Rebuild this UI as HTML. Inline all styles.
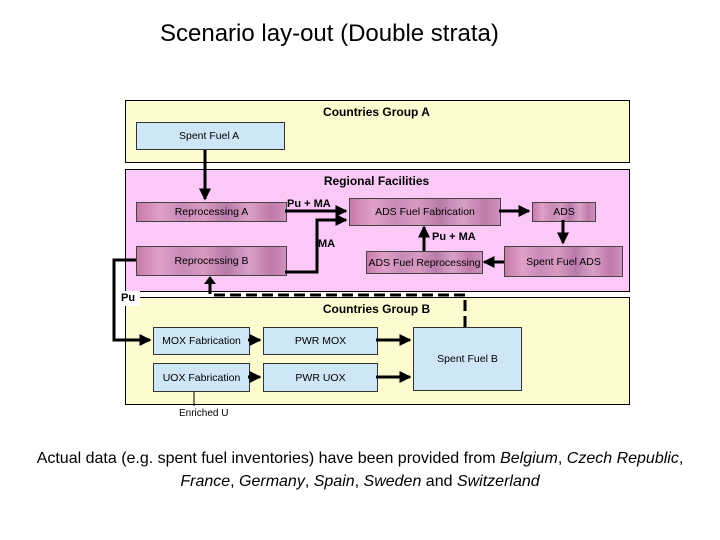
<!DOCTYPE html>
<html><head><style>
body{margin:0;width:720px;height:540px;background:#fff;position:relative;font-family:"Liberation Sans",sans-serif;overflow:hidden}
.a{position:absolute}
.g{position:absolute;border:1px solid #000}
.y{background:#fdfbd0}
.p{background:#fbc8f8}
.b{background:#cfe6f7;border:1px solid #333;font-size:10.5px;display:flex;align-items:center;justify-content:center}
.m{border:1px solid #444;font-size:10.5px;display:flex;align-items:center;justify-content:center;background:linear-gradient(90deg,#c77aa8 0%,#e0a0c8 15%,#c88ab8 30%,#d89ac0 45%,#b87aa8 60%,#d8a0c8 75%,#c07aa8 90%,#d090c0 100%)}
.t{font-weight:bold;font-size:12px;text-align:center}
</style></head><body>
<div class="a" style="left:160px;top:20px;font-size:24px;white-space:nowrap">Scenario lay-out (Double strata)</div>
<div class="g y" style="left:125px;top:100px;width:503px;height:61px"></div>
<div class="a t" style="left:125px;top:105px;width:503px">Countries Group A</div>
<div class="a b" style="left:136px;top:122px;width:149px;height:28px;justify-content:flex-start;padding-left:42px;box-sizing:border-box">Spent Fuel A</div>
<div class="g p" style="left:125px;top:169px;width:503px;height:121px"></div>
<div class="a t" style="left:125px;top:174px;width:503px">Regional Facilities</div>
<div class="a m" style="left:136px;top:202px;width:149px;height:18px">Reprocessing A</div>
<div class="a m" style="left:136px;top:246px;width:149px;height:28px">Reprocessing B</div>
<div class="a m" style="left:349px;top:198px;width:150px;height:26px">ADS Fuel Fabrication</div>
<div class="a m" style="left:532px;top:202px;width:62px;height:18px">ADS</div>
<div class="a m" style="left:504px;top:246px;width:117px;height:29px">Spent Fuel ADS</div>
<div class="a m" style="left:366px;top:251px;width:115px;height:21px;white-space:nowrap">ADS Fuel Reprocessing</div>
<div class="g y" style="left:125px;top:297px;width:503px;height:106px"></div>
<div class="a t" style="left:125px;top:302px;width:503px">Countries Group B</div>
<div class="a b" style="left:153px;top:327px;width:95px;height:26px">MOX Fabrication</div>
<div class="a b" style="left:263px;top:327px;width:113px;height:26px">PWR MOX</div>
<div class="a b" style="left:153px;top:363px;width:95px;height:27px">UOX Fabrication</div>
<div class="a b" style="left:263px;top:363px;width:113px;height:27px">PWR UOX</div>
<div class="a b" style="left:413px;top:327px;width:107px;height:62px">Spent Fuel B</div>
<div class="a" style="left:118px;top:291px;width:22px;height:15px;background:#fff"></div>
<div class="a" style="left:121px;top:292px;font-size:11px;font-weight:bold">Pu</div>
<div class="a" style="left:179px;top:408px;font-size:10px">Enriched U</div>
<div class="a" style="left:287px;top:198px;font-size:11px;font-weight:bold">Pu + MA</div>
<div class="a" style="left:318px;top:238px;font-size:11px;font-weight:bold">MA</div>
<div class="a" style="left:432px;top:231px;font-size:11px;font-weight:bold">Pu + MA</div>
<svg class="a" style="left:0;top:0" width="720" height="540">
<defs><marker id="ar" markerWidth="4" markerHeight="4" refX="3.5" refY="2" orient="auto" markerUnits="strokeWidth"><path d="M0,0L4,2L0,4z" fill="#000"/></marker></defs>
<g stroke="#000" stroke-width="3" fill="none">
<path d="M205 150V199" marker-end="url(#ar)"/>
<path d="M285 211H346" marker-end="url(#ar)"/>
<path d="M285 272H317V220H346" marker-end="url(#ar)"/>
<path d="M499 211H529" marker-end="url(#ar)"/>
<path d="M563 220V243" marker-end="url(#ar)"/>
<path d="M504 262H484" marker-end="url(#ar)"/>
<path d="M424 251V227" marker-end="url(#ar)"/>
<path d="M136 260H114V340H150" marker-end="url(#ar)"/>
<path d="M248 340H260" marker-end="url(#ar)"/>
<path d="M248 377H260" marker-end="url(#ar)"/>
<path d="M376 340H410" marker-end="url(#ar)"/>
<path d="M376 377H410" marker-end="url(#ar)"/>
<path d="M465 327V295H210V279" stroke-dasharray="11,5" />
</g>
<path d="M204 284L210 276L216 284z" fill="#000"/>
<path d="M194 406V392" stroke="#000" stroke-width="1"/>
</svg>
<div class="a" style="left:30px;top:447px;width:660px;text-align:center;font-size:16px;line-height:23px">Actual data (e.g. spent fuel inventories) have been provided from <i>Belgium</i>, <i>Czech Republic</i>, <i>France</i>, <i>Germany</i>, <i>Spain</i>, <i>Sweden</i> and <i>Switzerland</i></div>
</body></html>
